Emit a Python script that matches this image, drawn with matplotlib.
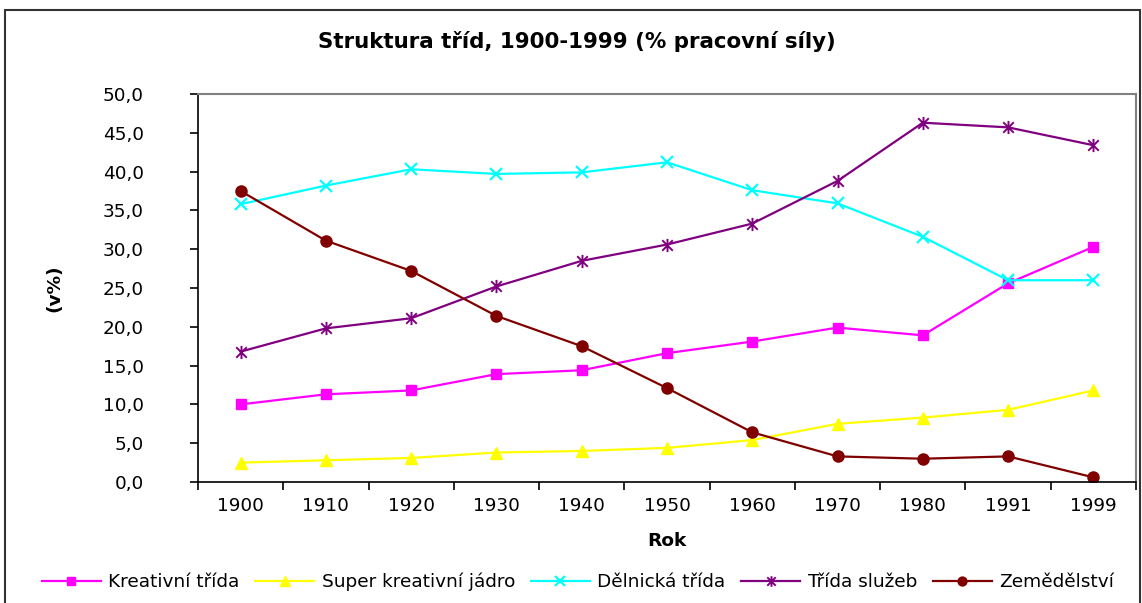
import numpy as np
import matplotlib
matplotlib.use('Agg')
import matplotlib.pyplot as plt
from matplotlib.path import Path
from matplotlib.patches import Rectangle

plt.rcParams['font.family'] = ['DejaVu Sans']

# data
roky = ['1900', '1910', '1920', '1930', '1940', '1950', '1960', '1970', '1980', '1991', '1999']
kreativni = [10.0, 11.3, 11.8, 13.9, 14.4, 16.6, 18.1, 19.9, 18.9, 25.6, 30.3]
super_kreativni = [2.5, 2.8, 3.1, 3.8, 4.0, 4.4, 5.4, 7.5, 8.3, 9.3, 11.8]
delnicka = [35.8, 38.2, 40.3, 39.7, 39.9, 41.2, 37.6, 35.9, 31.6, 26.0, 26.0]
sluzby = [16.8, 19.8, 21.1, 25.2, 28.5, 30.6, 33.3, 38.8, 46.3, 45.7, 43.4]
zemedelstvi = [37.5, 31.1, 27.2, 21.4, 17.5, 12.1, 6.4, 3.3, 3.0, 3.3, 0.6]

nazvy = ['Kreativní třída', 'Super kreativní jádro', 'Dělnická třída', 'Třída služeb', 'Zemědělství']

# Excel-like star marker: X with vertical bar
star = Path([(-1, -1), (1, 1), (-1, 1), (1, -1), (0, -1.25), (0, 1.25)],
            [Path.MOVETO, Path.LINETO, Path.MOVETO, Path.LINETO, Path.MOVETO, Path.LINETO])

styly = [
    dict(color='#FF00FF', marker='s', ms=7.5),
    dict(color='#FFFF00', marker='^', ms=9),
    dict(color='#00FFFF', marker='x', ms=9, mew=1.6),
    dict(color='#800080', marker=star, ms=9.5, mew=1.4),
    dict(color='#800000', marker='o', ms=8),
]

fs = 13.3

fig = plt.figure(figsize=(11.42, 6.03), dpi=100)
ax = fig.add_axes([198/1142, 1 - 482/603, (1136 - 198)/1142, (482 - 94)/603])

x = np.arange(len(roky))
for data, nazev, st in zip([kreativni, super_kreativni, delnicka, sluzby, zemedelstvi], nazvy, styly):
    ax.plot(x, data, lw=1.6, label=nazev, **st)

ax.set_xlim(-0.5, len(roky) - 0.5)
ax.set_ylim(0, 50)
ax.set_yticks(np.arange(0, 51, 5))
ax.set_yticklabels([('%.1f' % v).replace('.', ',') for v in np.arange(0, 51, 5)], fontsize=fs)
ax.set_xticks(x)
ax.set_xticklabels(roky, fontsize=fs)
ax.set_xticks(np.arange(-0.5, len(roky), 1), minor=True)
ax.tick_params(axis='x', which='major', length=0, pad=11)
ax.tick_params(axis='x', which='minor', length=6, width=1.2, direction='out')
ax.tick_params(axis='y', length=6, width=1.2, direction='out', pad=33)

for s in ['top', 'right']:
    ax.spines[s].set_color('#808080')
    ax.spines[s].set_linewidth(1.5)
for s in ['left', 'bottom']:
    ax.spines[s].set_color('black')
    ax.spines[s].set_linewidth(1.2)

ax.set_xlabel('Rok', fontsize=fs, fontweight='bold', labelpad=12)
ax.set_ylabel('(v%)', fontsize=fs, fontweight='bold', labelpad=28)
fig.text(577/1142, 1 - 42/603, 'Struktura tříd, 1900-1999 (% pracovní síly)',
         ha='center', va='center', fontsize=15.4, fontweight='bold')

leg = fig.legend(loc='center', bbox_to_anchor=(578/1142, 1 - 582/603), ncol=5, frameon=False,
                 fontsize=fs, handlelength=3.2, handletextpad=0.4, columnspacing=0.85,
                 markerscale=0.8)

# outer chart border
fig.patches.append(Rectangle((5/1142, -0.1), 1135/1142, 1.1 - 10/603, transform=fig.transFigure,
                             fill=False, edgecolor='#333333', lw=1.5, clip_on=False))

fig.savefig('out.png', dpi=100)
